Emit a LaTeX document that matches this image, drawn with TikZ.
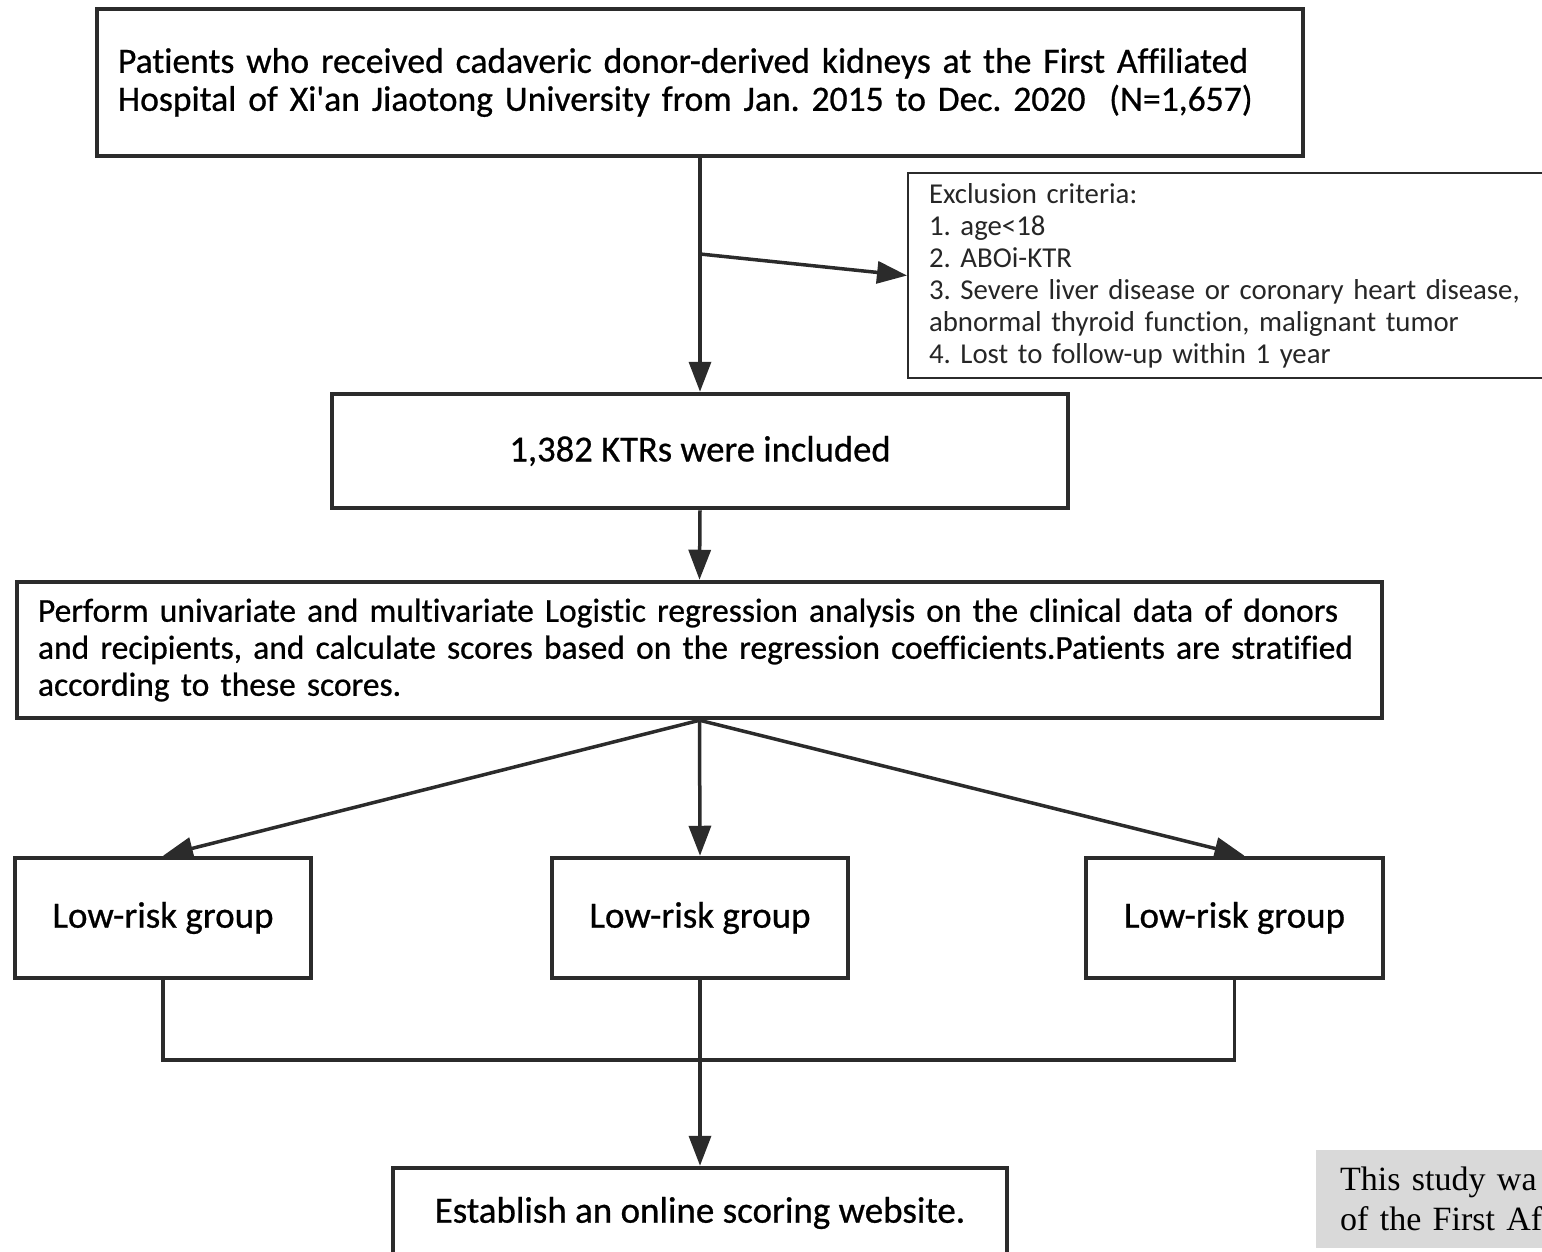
\documentclass[tikz,border=0pt]{standalone}
\usepackage{fontspec}
\setmainfont{Carlito}[Ligatures=NoCommon]
\newfontfamily\boxfont{Carlito}[FakeBold=0.7,Ligatures=NoCommon]
\newfontfamily\notefont{Liberation Serif}
\usetikzlibrary{arrows.meta,calc}
\definecolor{linegray}{HTML}{2B2B2B}
\definecolor{notegray}{HTML}{D9D9D9}
\frenchspacing

\begin{document}
\begin{tikzpicture}[x=1pt,y=-1pt,
        box/.style={draw=linegray,line width=4.5pt,inner xsep=21pt,inner ysep=0pt,font=\boxfont\fontsize{37}{38}\selectfont},
        exbox/.style={draw=linegray,line width=2pt,inner xsep=21pt,inner ysep=0pt,text=black!85,font=\fontsize{28.8}{32}\selectfont},
        arr/.style={draw=linegray,line width=3.5pt,-{Triangle[length=30pt,width=22pt]}},
        link/.style={draw=linegray,line width=3.5pt}]
    \useasboundingbox (0,0) rectangle (1542,1251);
    \clip (0,0) rectangle (1542,1251);

    \node[box,minimum width=1206pt,minimum height=147pt,text width=1164pt,align=left,font=\boxfont\fontsize{35.6}{38}\selectfont] (top) at (700,82.5)
        {Patients who received cadaveric donor-derived kidneys at the First Affiliated\\Hospital of Xi'an Jiaotong University from Jan. 2015 to Dec. 2020\ \ (N=1,657)};
    \node[exbox,anchor=north west,minimum width=700pt,minimum height=205pt,text width=658pt,align=left] (excl) at (907,172)
        {Exclusion criteria:\\1. age<18\\2. ABOi-KTR\\3. Severe liver disease or coronary heart disease,\\abnormal thyroid function, malignant tumor\\4. Lost to follow-up within 1 year};
    \node[box,minimum width=736pt,minimum height=114pt,font=\boxfont\fontsize{36.6}{38}\selectfont] (incl) at (700,451) {1,382 KTRs were included};
    \node[box,minimum width=1365pt,minimum height=136pt,text width=1323pt,align=left,font=\boxfont\fontsize{33.5}{37}\selectfont] (reg) at (699.5,650)
        {Perform univariate and multivariate Logistic regression analysis on the clinical data of donors\\and recipients, and calculate scores based on the regression coefficients.Patients are stratified\\according to these scores.};
    \node[box,minimum width=296pt,minimum height=120pt] (lo) at (163,918) {Low-risk group};
    \node[box,minimum width=296pt,minimum height=120pt] (mid) at (700,918) {Low-risk group};
    \node[box,minimum width=297pt,minimum height=120pt] (hi) at (1234.5,918) {Low-risk group};
    \node[box,minimum width=614pt,minimum height=90pt] (site) at (700,1213) {Establish an online scoring website.};
    \node[fill=notegray,anchor=north west,minimum width=300pt,text width=260pt,inner xsep=24pt,inner ysep=17pt,align=left,font=\notefont\fontsize{34}{40}\selectfont] (note) at (1316,1150)
        {This study wa\\of the First Af};

    \coordinate (split) at ($(top.south)!0.41!(incl.north)$);
    \coordinate (join) at (700,1060);
    \draw[arr] (top.south) -- (incl.north);
    \draw[arr] (split) -- (excl.west);
    \draw[arr] (incl.south) -- (reg.north);
    \draw[arr] (reg.south) -- (lo.north);
    \draw[arr] (reg.south) -- (mid.north);
    \draw[arr] (reg.south) -- ([xshift=10pt]hi.north);
    \draw[link] (lo.south) |- (join) -| (hi.south);
    \draw[arr] (mid.south) -- (site.north);
\end{tikzpicture}
\end{document}
